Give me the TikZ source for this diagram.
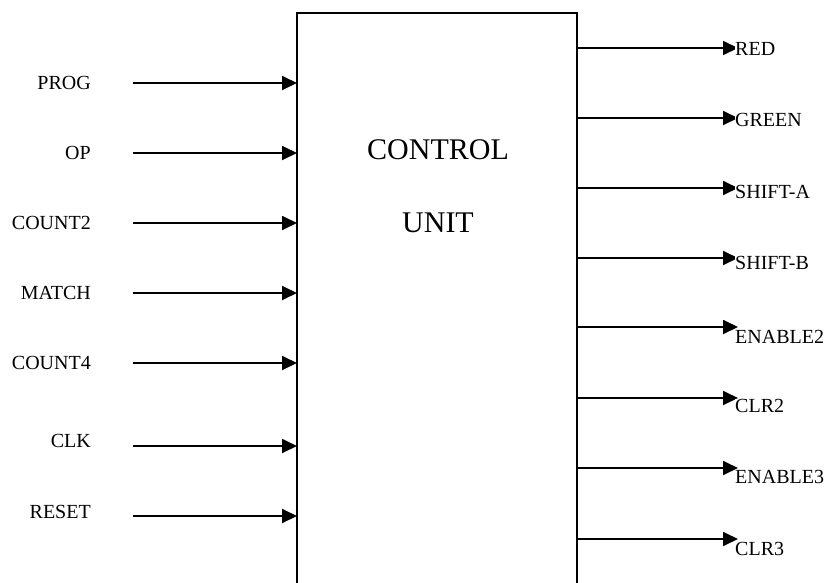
\documentclass[tikz,border=0pt]{standalone}
\usepackage{fontspec}
\setmainfont{Liberation Serif}
\usetikzlibrary{arrows.meta}
\begin{document}
\begin{tikzpicture}[x=1pt,y=-1pt,
  sig/.style={line width=1.8pt,-{Triangle[length=15pt,width=14pt]}},
  inlbl/.style={anchor=base east,font=\fontsize{20}{24}\selectfont,inner sep=0pt},
  outlbl/.style={anchor=base west,font=\fontsize{20}{24}\selectfont,inner sep=0pt,fill=white},
  big/.style={anchor=base,font=\fontsize{30}{36}\selectfont,inner sep=0pt}]
\useasboundingbox (0,0) rectangle (830,582);
\begin{scope}
\clip (0,0) rectangle (830,582);
\node[draw,line width=1.8pt,minimum width=280pt,minimum height=600pt,anchor=north west,inner sep=0pt,outer sep=0pt] (cu) at (297,13) {};
\end{scope}
\node[big] (t1) at (438,159) {CONTROL};
\node[big] (t2) at (438,232) {UNIT};
\foreach \nm/\y/\b in {PROG/83/89,OP/153/159,COUNT2/223/229,MATCH/293/299,COUNT4/363/369,CLK/446/447,RESET/516/518}{
  \node[inlbl] (in-\nm) at (91,\b) {\nm};
  \coordinate (s-\nm) at (133,\y);
  \draw[sig] (s-\nm) -- (s-\nm -| cu.west);
}
\foreach \nm/\y/\b in {RED/48/55,GREEN/118/126,SHIFT-A/188/198,SHIFT-B/258/269,ENABLE2/327/343,CLR2/398/412,ENABLE3/468/483,CLR3/539/555}{
  \coordinate (e-\nm) at (738,\y);
  \draw[sig] (e-\nm -| cu.east) -- (e-\nm);
  \node[outlbl] (out-\nm) at (735,\b) {\nm};
}
\end{tikzpicture}
\end{document}
